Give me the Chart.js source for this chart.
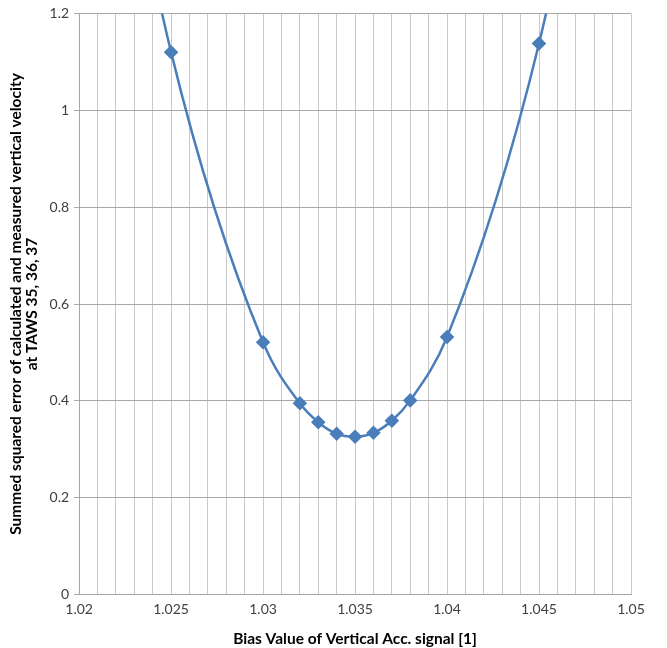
<!DOCTYPE html>
<html>
<head>
<meta charset="utf-8">
<script src="https://cdn.jsdelivr.net/npm/chart.js@4/dist/chart.umd.min.js"></script>
<style>
  html, body { margin: 0; padding: 0; background: #fff; }
  canvas { display: block; }
</style>
</head>
<body>
<canvas id="bias-chart" width="667" height="648"></canvas>
<script>
// bias values (x) and summed squared error (y); first and last points sit above the visible range
const biasValues = [1.02, 1.025, 1.03, 1.032, 1.033, 1.034, 1.035, 1.036, 1.037, 1.038, 1.04, 1.045, 1.05];
const errorValues = [2.08, 1.12, 0.521, 0.395, 0.356, 0.332, 0.326, 0.334, 0.359, 0.401, 0.532, 1.138, 2.10];

const xTitle = 'Bias Value of Vertical Acc. signal [1]';
const yTitle = ['Summed squared error of calculated and measured vertical velocity', 'at TAWS 35, 36, 37'];

const lineColor = '#4A7EBB';
const fontFamily = 'Lato, "Open Sans", sans-serif';

document.addEventListener('DOMContentLoaded', function () {
    const ctx = document.getElementById('bias-chart').getContext('2d');

    const points = biasValues.map((x, i) => ({ x: x, y: errorValues[i] }));

    new Chart(ctx, {
        type: 'scatter',
        data: {
            datasets: [{
                data: points,
                showLine: true,
                borderColor: lineColor,
                backgroundColor: lineColor,
                borderWidth: 2.5,
                cubicInterpolationMode: 'monotone',
                pointStyle: 'rectRot',
                pointRadius: 5.5,
                pointHoverRadius: 5.5
            }]
        },
        options: {
            responsive: false,
            animation: false,
            events: [],
            layout: { padding: { top: 9, right: 36, left: 8, bottom: 0 } },
            elements: { line: { capBezierPoints: false } },
            plugins: {
                legend: { display: false },
                tooltip: { enabled: false }
            },
            scales: {
                x: {
                    type: 'linear',
                    min: 1.02,
                    max: 1.05,
                    grid: {
                        color: '#c8c8c8',
                        lineWidth: 1,
                        drawTicks: false
                    },
                    border: { color: '#a6a6a6' },
                    ticks: {
                        stepSize: 0.001,
                        autoSkip: false,
                        maxRotation: 0,
                        padding: 6,
                        color: '#404040',
                        font: { family: fontFamily, size: 14 },
                        callback: function (v) {
                            const m = Math.round(v * 1000);
                            if (m % 5 !== 0) return '';
                            return String(parseFloat(v.toFixed(3)));
                        }
                    },
                    title: {
                        display: true,
                        text: xTitle,
                        color: '#000',
                        padding: { top: 6, bottom: 0 },
                        font: { family: fontFamily, size: 15.5, weight: 'bold' }
                    }
                },
                y: {
                    min: 0,
                    max: 1.2,
                    grid: {
                        color: '#a8a8a8',
                        lineWidth: 1,
                        tickLength: 5
                    },
                    border: { color: '#a6a6a6' },
                    ticks: {
                        stepSize: 0.2,
                        padding: 5,
                        color: '#404040',
                        font: { family: fontFamily, size: 14 },
                        callback: function (v) {
                            return String(parseFloat(v.toFixed(1)));
                        }
                    },
                    title: {
                        display: true,
                        text: yTitle,
                        color: '#000',
                        padding: { top: 0, bottom: 4 },
                        font: { family: fontFamily, size: 15.5, weight: 'bold', lineHeight: 1.05 }
                    }
                }
            }
        }
    });
});
</script>
</body>
</html>
